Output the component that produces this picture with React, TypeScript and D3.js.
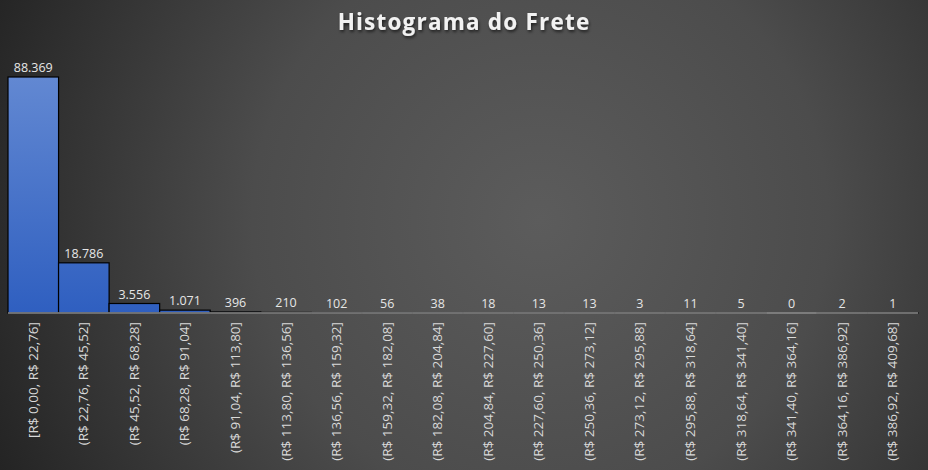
import { useEffect, useRef } from "react";
import * as d3 from "d3";

const bins = [
  "[R$ 0,00, R$ 22,76]",
  "(R$ 22,76, R$ 45,52]",
  "(R$ 45,52, R$ 68,28]",
  "(R$ 68,28, R$ 91,04]",
  "(R$ 91,04, R$ 113,80]",
  "(R$ 113,80, R$ 136,56]",
  "(R$ 136,56, R$ 159,32]",
  "(R$ 159,32, R$ 182,08]",
  "(R$ 182,08, R$ 204,84]",
  "(R$ 204,84, R$ 227,60]",
  "(R$ 227,60, R$ 250,36]",
  "(R$ 250,36, R$ 273,12]",
  "(R$ 273,12, R$ 295,88]",
  "(R$ 295,88, R$ 318,64]",
  "(R$ 318,64, R$ 341,40]",
  "(R$ 341,40, R$ 364,16]",
  "(R$ 364,16, R$ 386,92]",
  "(R$ 386,92, R$ 409,68]",
];

const counts = [88369, 18786, 3556, 1071, 396, 210, 102, 56, 38, 18, 13, 13, 3, 11, 5, 0, 2, 1];

const fmt = d3.formatLocale({ decimal: ",", thousands: ".", grouping: [3], currency: ["R$ ", ""] }).format(",d");

export default function App() {
  const ref = useRef<SVGSVGElement>(null);

  useEffect(() => {
    const width = 928;
    const height = 470;
    const margin = { top: 77, right: 10, bottom: 157, left: 8 };

    const svg = d3.select(ref.current);
    svg.selectAll("*").remove();

    const defs = svg.append("defs");
    const bg = defs.append("radialGradient")
      .attr("id", "bg")
      .attr("gradientUnits", "userSpaceOnUse")
      .attr("cx", 540).attr("cy", 220).attr("r", 640);
    bg.append("stop").attr("offset", "0%").attr("stop-color", "#5c5c5c");
    bg.append("stop").attr("offset", "45%").attr("stop-color", "#4c4c4c");
    bg.append("stop").attr("offset", "100%").attr("stop-color", "#1e1e1e");

    const barGrad = defs.append("linearGradient")
      .attr("id", "bar")
      .attr("gradientUnits", "userSpaceOnUse")
      .attr("x1", 0).attr("y1", margin.top).attr("x2", 0).attr("y2", height - margin.bottom);
    barGrad.append("stop").attr("offset", "0%").attr("stop-color", "#6288d2");
    barGrad.append("stop").attr("offset", "100%").attr("stop-color", "#2f5fc0");

    const shadow = defs.append("filter").attr("id", "shadow")
      .attr("x", "-10%").attr("y", "-30%").attr("width", "120%").attr("height", "160%");
    shadow.append("feDropShadow")
      .attr("dx", 1).attr("dy", 2).attr("stdDeviation", 1.5)
      .attr("flood-color", "#000").attr("flood-opacity", 0.6);

    svg.append("rect").attr("width", width).attr("height", height).attr("fill", "url(#bg)");

    const x = d3.scaleBand()
      .domain(bins)
      .range([margin.left, width - margin.right])
      .padding(0);

    const y = d3.scaleLinear()
      .domain([0, d3.max(counts) as number])
      .range([height - margin.bottom, margin.top]);

    const data = bins.map((b, i) => ({ bin: b, count: counts[i] }));

    svg.append("g")
      .selectAll("rect")
      .data(data)
      .join("rect")
      .attr("x", d => x(d.bin) as number)
      .attr("y", d => y(d.count))
      .attr("width", x.bandwidth())
      .attr("height", d => y(0) - y(d.count))
      .attr("fill", "url(#bar)")
      .attr("stroke", "#000")
      .attr("stroke-width", 1.2);

    svg.append("line")
      .attr("x1", margin.left).attr("x2", width - margin.right)
      .attr("y1", y(0)).attr("y2", y(0))
      .attr("stroke", "#8c8c8c")
      .attr("stroke-width", 1.5);

    svg.append("g")
      .selectAll("text")
      .data(data)
      .join("text")
      .attr("x", d => (x(d.bin) as number) + x.bandwidth() / 2)
      .attr("y", d => y(d.count) - 5)
      .attr("text-anchor", "middle")
      .attr("font-family", "'Open Sans', sans-serif")
      .attr("font-size", 12.5)
      .attr("fill", "#e6e6e6")
      .text(d => fmt(d.count));

    svg.append("g")
      .selectAll("text")
      .data(bins)
      .join("text")
      .attr("transform", d => `translate(${(x(d) as number) + x.bandwidth() / 2 + 4.5},${y(0) + 9}) rotate(-90)`)
      .attr("text-anchor", "end")
      .attr("font-family", "'Open Sans', sans-serif")
      .attr("font-size", 13.5)
      .attr("fill", "#d9d9d9")
      .text(d => d);

    svg.append("text")
      .attr("x", width / 2)
      .attr("y", 30)
      .attr("text-anchor", "middle")
      .attr("font-family", "'Open Sans', sans-serif")
      .attr("font-weight", "bold")
      .attr("font-size", 22.5)
      .attr("letter-spacing", 1.2)
      .attr("fill", "#f2f2f2")
      .attr("filter", "url(#shadow)")
      .text("Histograma do Frete");
  }, []);

  return (
    <svg ref={ref} width={928} height={470} style={{ display: "block", position: "absolute", left: 0, top: 0 }} />
  );
}
